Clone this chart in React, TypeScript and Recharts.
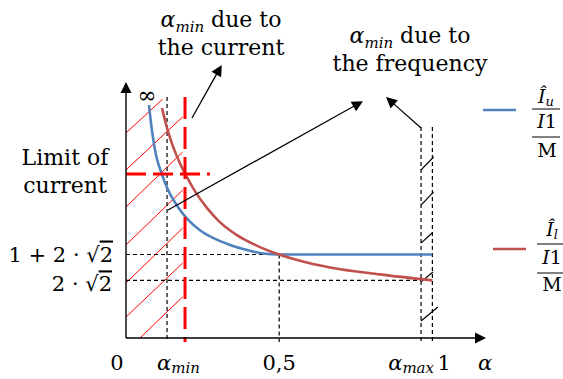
import React from 'react';
import { ComposedChart, Line, XAxis, YAxis, ReferenceLine } from 'recharts';

const FONT = '"DejaVu Serif", "Liberation Serif", serif';

// axis extents (data units)
const X_MAX = 1.175;
const Y_MIN = 0.6;
const Y_MAX = 10.5;

// key abscissas
const ALPHA_MIN = 0.134;
const ALPHA_MIN_CURRENT = 0.1926;
const ALPHA_MAX = 0.963;
const ALPHA_HALF = 0.5;
const ALPHA_ONE = 1.0;

// key ordinates
const LEVEL_U = 1 + 2 * Math.SQRT2; // 1 + 2·√2
const LEVEL_L = 2 * Math.SQRT2; // 2·√2
const LIMIT_CURRENT = 6.94;
const TOP_GUIDE = 9.92;
const TOP_FREQ_GUIDE = 8.76;
const BELOW_AXIS = 0.45;

// tick lists
const X_TICKS = [0, ALPHA_MIN, ALPHA_HALF, ALPHA_MAX, ALPHA_ONE, X_MAX];
const Y_TICKS = [LEVEL_L, LEVEL_U, LIMIT_CURRENT];

// Î_u / (I1/M) curve
const blueX = [0.075, 0.085, 0.098, 0.1175, 0.137, 0.17, 0.2023, 0.2415, 0.284, 0.3395, 0.395, 0.447, 0.5, 1.0];
const blueY = [9.61, 8.6, 7.68, 6.92, 6.33, 5.66, 5.18, 4.77, 4.47, 4.2, 4.0, 3.87, 3.828, 3.828];

// Î_l / (I1/M) curve
const redX = [0.1175, 0.134, 0.153, 0.176, 0.199, 0.225, 0.264, 0.3055, 0.362, 0.4145, 0.5, 0.568, 0.666, 0.829, 1.0];
const redY = [9.49, 8.72, 8.02, 7.36, 6.82, 6.28, 5.63, 5.09, 4.58, 4.24, 3.828, 3.59, 3.33, 3.06, 2.828];

// red hatching (forbidden zone) segments: [x1, y1, x2, y2]
const hatchSegments = [
  [0, 8.53, 0.12, 9.84],
  [0, 7.1, 0.185, 9.15],
  [0, 5.67, 0.185, 7.79],
  [0, 4.2, 0.185, 6.32],
  [0, 2.73, 0.185, 4.85],
  [0, 1.41, 0.185, 3.5],
  [0.0455, 0.6, 0.185, 2.19],
];

// black slashes between α_max and 1
const slashSegments = [
  [ALPHA_MAX, 7.1, 1.004, 7.6],
  [ALPHA_MAX, 5.74, 1.004, 6.25],
  [ALPHA_MAX, 4.27, 0.999, 4.66],
  [ALPHA_MAX, 2.77, 1.002, 3.15],
  [ALPHA_MAX, 1.26, 1.018, 1.8],
];

// annotation arrows: [x1, y1, x2(tip), y2(tip)]
const arrowSegments = [
  [0.2154, 9.11, 0.3125, 11.16],
  [0.137, 5.55, 0.7735, 9.76],
  [ALPHA_MAX, 8.72, 0.8486, 9.92],
];

const blueData = blueX.map((x, i) => ({ x, y: blueY[i] }));
const redData = redX.map((x, i) => ({ x, y: redY[i] }));

const BLUE = '#4F81BD';
const RED = '#C0504D';
const HATCH = '#FF0000';

const near = (a: number, b: number) => Math.abs(a - b) < 1e-6;

const arrowShape = (props: any) => {
  const { x1, y1, x2, y2 } = props;
  const stroke = props.stroke || '#000';
  const sw = props.strokeWidth || 1.3;
  const dx = x2 - x1;
  const dy = y2 - y1;
  const len = Math.hypot(dx, dy) || 1;
  const ux = dx / len;
  const uy = dy / len;
  const L = 11;
  const W = 5.5;
  const bx = x2 - ux * L;
  const by = y2 - uy * L;
  const pts = `${x2},${y2} ${bx - uy * W},${by + ux * W} ${bx + uy * W},${by - ux * W}`;
  return (
    <g>
      <line x1={x1} y1={y1} x2={bx + ux * 1} y2={by + uy * 1} stroke={stroke} strokeWidth={sw} />
      <polygon points={pts} fill={stroke} />
    </g>
  );
};

const renderXTick = (p: any) => {
  const { x, y, payload } = p;
  const v = payload.value;
  const base = y + 32;
  const common = { fontFamily: FONT, fontSize: 21, fill: '#000' } as any;
  if (near(v, 0)) {
    return <text x={x - 9} y={base} textAnchor="middle" {...common}>0</text>;
  }
  if (near(v, ALPHA_MIN)) {
    return (
      <text x={x - 10} y={base} textAnchor="start" {...common}>
        <tspan fontStyle="italic">α</tspan>
        <tspan fontStyle="italic" fontSize={15} dy={3}>min</tspan>
      </text>
    );
  }
  if (near(v, ALPHA_HALF)) {
    return <text x={x} y={base} textAnchor="middle" {...common}>0,5</text>;
  }
  if (near(v, ALPHA_MAX)) {
    return (
      <text x={x + 13} y={base} textAnchor="end" {...common}>
        <tspan fontStyle="italic">α</tspan>
        <tspan fontStyle="italic" fontSize={15} dy={3}>max</tspan>
      </text>
    );
  }
  if (near(v, ALPHA_ONE)) {
    return <text x={x + 5} y={base} textAnchor="start" {...common}>1</text>;
  }
  return <text x={x - 1} y={base} textAnchor="middle" fontStyle="italic" {...common}>α</text>;
};

const renderYTick = (p: any) => {
  const { x, y, payload } = p;
  const v = payload.value;
  const common = { fontFamily: FONT, fontSize: 21, fill: '#000' } as any;
  if (near(v, LEVEL_U)) {
    return (
      <text x={x - 13} y={y + 7} textAnchor="end" {...common}>
        1 + 2 · √<tspan style={{ textDecoration: 'overline' }}>2</tspan>
      </text>
    );
  }
  if (near(v, LEVEL_L)) {
    return (
      <text x={x - 14} y={y + 11} textAnchor="end" {...common}>
        2 · √<tspan style={{ textDecoration: 'overline' }}>2</tspan>
      </text>
    );
  }
  return (
    <g>
      <text x={x - 61} y={y - 9} textAnchor="middle" fontFamily={FONT} fontSize={22} fill="#000">Limit of</text>
      <text x={x - 61} y={y + 19} textAnchor="middle" fontFamily={FONT} fontSize={22} fill="#000">current</text>
    </g>
  );
};

const seg = (s: number[]) => [
  { x: s[0], y: s[1] },
  { x: s[2], y: s[3] },
];

export default function App() {
  return (
    <div style={{ position: 'absolute', left: 0, top: 0, width: 563, height: 379, background: '#fff' }}>
      <ComposedChart width={563} height={379} margin={{ top: 82, right: 77, bottom: 11, left: 66 }}>
        <XAxis
          type="number"
          dataKey="x"
          domain={[0, X_MAX]}
          ticks={X_TICKS}
          interval={0}
          tick={renderXTick}
          tickSize={0}
          tickMargin={0}
          tickLine={false}
          axisLine={false}
          height={30}
          allowDataOverflow
        />
        <YAxis
          type="number"
          domain={[Y_MIN, Y_MAX]}
          ticks={Y_TICKS}
          interval={0}
          tick={renderYTick}
          tickSize={0}
          tickMargin={0}
          tickLine={false}
          axisLine={false}
          width={60}
          allowDataOverflow
        />

        {hatchSegments.map((s, i) => (
          <ReferenceLine key={'h' + i} segment={seg(s)} stroke={HATCH} strokeWidth={1} ifOverflow="visible" />
        ))}

        <ReferenceLine segment={seg([0, LEVEL_U, ALPHA_HALF, LEVEL_U])} stroke="#000" strokeWidth={1.2} strokeDasharray="4 3" ifOverflow="visible" />
        <ReferenceLine segment={seg([0, LEVEL_L, ALPHA_MAX, LEVEL_L])} stroke="#000" strokeWidth={1.2} strokeDasharray="4 3" ifOverflow="visible" />
        <ReferenceLine segment={seg([ALPHA_MIN, TOP_GUIDE, ALPHA_MIN, BELOW_AXIS])} stroke="#000" strokeWidth={1.2} strokeDasharray="4 3" ifOverflow="visible" />
        <ReferenceLine segment={seg([ALPHA_HALF, LEVEL_U, ALPHA_HALF, BELOW_AXIS])} stroke="#000" strokeWidth={1.2} strokeDasharray="4 3" ifOverflow="visible" />
        <ReferenceLine segment={seg([ALPHA_MAX, TOP_FREQ_GUIDE, ALPHA_MAX, BELOW_AXIS])} stroke="#000" strokeWidth={1.2} strokeDasharray="4 3" ifOverflow="visible" />
        <ReferenceLine segment={seg([ALPHA_ONE, TOP_FREQ_GUIDE, ALPHA_ONE, BELOW_AXIS])} stroke="#000" strokeWidth={1.2} strokeDasharray="4 3" ifOverflow="visible" />

        {slashSegments.map((s, i) => (
          <ReferenceLine key={'s' + i} segment={seg(s)} stroke="#000" strokeWidth={1.2} ifOverflow="visible" />
        ))}

        <Line data={blueData} dataKey="y" type="monotone" stroke={BLUE} strokeWidth={2.6} dot={false} isAnimationActive={false} />
        <Line data={redData} dataKey="y" type="monotone" stroke={RED} strokeWidth={2.6} dot={false} isAnimationActive={false} />

        <ReferenceLine segment={seg([ALPHA_MIN_CURRENT, TOP_GUIDE, ALPHA_MIN_CURRENT, BELOW_AXIS])} stroke={HATCH} strokeWidth={3} strokeDasharray="22 8" ifOverflow="visible" />
        <ReferenceLine segment={seg([0, LIMIT_CURRENT, 0.274, LIMIT_CURRENT])} stroke={HATCH} strokeWidth={3} strokeDasharray="20 7" ifOverflow="visible" />

        {arrowSegments.map((s, i) => (
          <ReferenceLine key={'a' + i} segment={seg(s)} stroke="#000" strokeWidth={1.3} ifOverflow="visible" shape={arrowShape} />
        ))}

        <ReferenceLine segment={seg([0, Y_MIN, X_MAX, Y_MIN])} stroke="#000" strokeWidth={1.4} ifOverflow="visible" shape={arrowShape} />
        <ReferenceLine segment={seg([0, Y_MIN, 0, Y_MAX])} stroke="#000" strokeWidth={1.4} ifOverflow="visible" shape={arrowShape} />
      </ComposedChart>

      <svg width={563} height={379} style={{ position: 'absolute', left: 0, top: 0, pointerEvents: 'none' }}>
        <g fontFamily={FONT} fill="#000">
          <text x={221} y={27} textAnchor="middle" fontSize={22}>
            <tspan fontStyle="italic">α</tspan>
            <tspan fontStyle="italic" fontSize={15} dy={5}>min</tspan>
            <tspan dy={-5}> due to</tspan>
          </text>
          <text x={221} y={55} textAnchor="middle" fontSize={22}>the current</text>

          <text x={410} y={43} textAnchor="middle" fontSize={22}>
            <tspan fontStyle="italic">α</tspan>
            <tspan fontStyle="italic" fontSize={15} dy={5}>min</tspan>
            <tspan dy={-5}> due to</tspan>
          </text>
          <text x={410} y={71} textAnchor="middle" fontSize={22}>the frequency</text>

          <text x={147} y={103} textAnchor="middle" fontSize={23}>∞</text>

          {/* legend: Î_u */}
          <line x1={483} y1={110} x2={516} y2={110} stroke={BLUE} strokeWidth={2.6} />
          <text x={546} y={103} textAnchor="middle" fontSize={19}>
            <tspan fontStyle="italic">Î</tspan>
            <tspan fontStyle="italic" fontSize={13} dy={3}>u</tspan>
          </text>
          <line x1={532} y1={109} x2={560} y2={109} stroke="#000" strokeWidth={1} />
          <text x={547} y={128} textAnchor="middle" fontSize={19}>
            <tspan fontStyle="italic">I</tspan>1
          </text>
          <line x1={532} y1={137} x2={560} y2={137} stroke="#000" strokeWidth={1} />
          <text x={547} y={157} textAnchor="middle" fontSize={19}>M</text>

          {/* legend: Î_l */}
          <line x1={493} y1={249} x2={526} y2={249} stroke={RED} strokeWidth={2.6} />
          <text x={552} y={236} textAnchor="middle" fontSize={19}>
            <tspan fontStyle="italic">Î</tspan>
            <tspan fontStyle="italic" fontSize={13} dy={3}>l</tspan>
          </text>
          <line x1={537} y1={244} x2={563} y2={244} stroke="#000" strokeWidth={1} />
          <text x={552} y={264} textAnchor="middle" fontSize={19}>
            <tspan fontStyle="italic">I</tspan>1
          </text>
          <line x1={537} y1={273} x2={563} y2={273} stroke="#000" strokeWidth={1} />
          <text x={552} y={291} textAnchor="middle" fontSize={19}>M</text>
        </g>
      </svg>
    </div>
  );
}
